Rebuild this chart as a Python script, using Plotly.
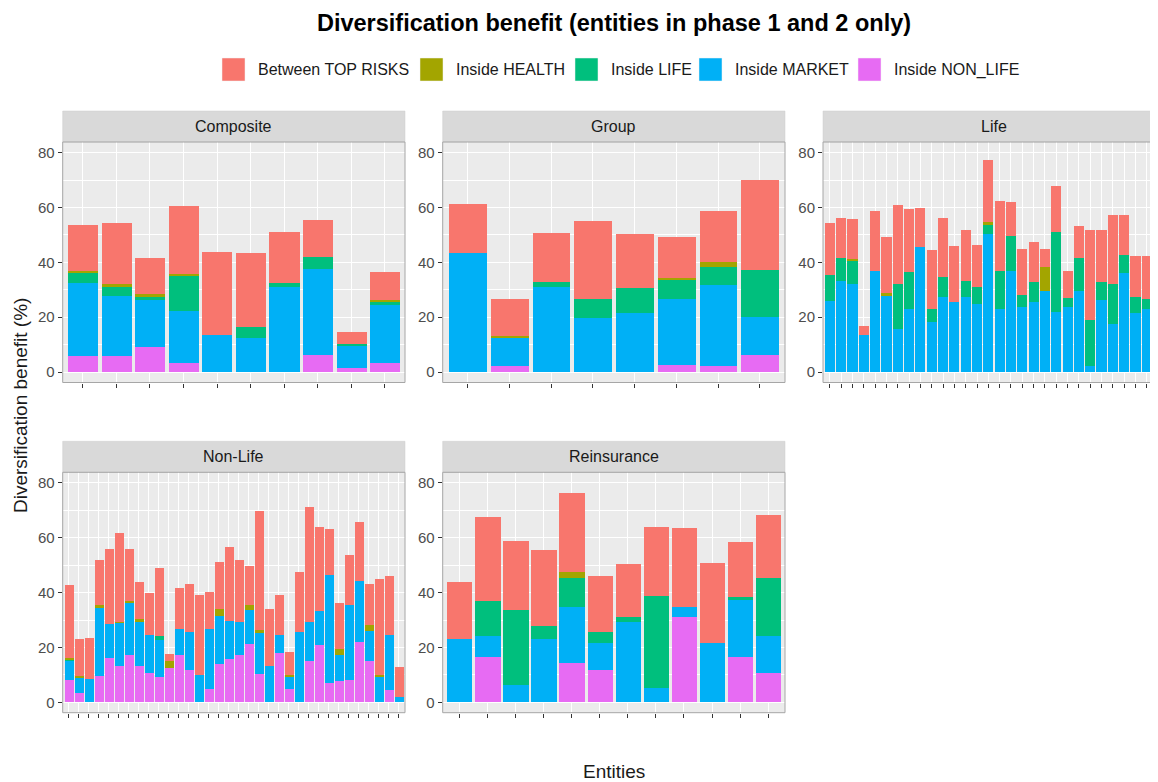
import plotly.graph_objects as go

# facets and stack components (bottom -> top of each bar)
facets = ["Composite", "Group", "Life", "Non-Life", "Reinsurance"]
components = ["Inside NON_LIFE", "Inside MARKET", "Inside LIFE", "Inside HEALTH", "Between TOP RISKS"]
colors = ["#E76BF3", "#00B0F6", "#00BF7D", "#A3A500", "#F8766D"]
legend_order = ["Between TOP RISKS", "Inside HEALTH", "Inside LIFE", "Inside MARKET", "Inside NON_LIFE"]

# --- Composite (10 entities)
composite_nonlife = [5.9, 5.7, 9.1, 3.2, 0, 0, 0, 6.2, 1.5, 3.4]
composite_market = [26.5, 21.9, 17.5, 18.9, 13.5, 12.5, 31.0, 31.3, 8.2, 21.1]
composite_life = [4.0, 3.6, 0.7, 13.1, 0, 3.8, 1.5, 4.3, 0.6, 1.4]
composite_health = [0.6, 1.0, 1.3, 0.4, 0, 0, 0, 0, 0, 0.4]
composite_top = [16.5, 22.1, 12.9, 24.9, 30.3, 27.2, 18.5, 13.7, 4.3, 10.2]

# --- Group (8 entities)
group_nonlife = [0, 2.4, 0, 0, 0, 2.7, 2.4, 6.3]
group_market = [43.3, 10.3, 31.1, 19.8, 21.4, 23.9, 29.3, 13.9]
group_life = [0, 0, 1.8, 6.9, 9.4, 7.1, 6.7, 17.1]
group_health = [0, 0.4, 0, 0, 0, 0.7, 1.7, 0]
group_top = [17.9, 13.4, 17.8, 28.5, 19.6, 15.0, 18.8, 32.9]

# --- Life (30 entities)
life_nonlife = [0] * 30
life_market = [26.0, 33.3, 32.2, 13.7, 36.9, 27.8, 15.7, 22.9, 45.5, 18.3,
               27.2, 25.5, 27.3, 24.9, 50.4, 23.1, 36.7, 23.8, 25.6, 29.6,
               22.0, 23.9, 29.4, 2.2, 26.3, 17.4, 36.2, 21.6, 23.1, 26.5]
life_life = [9.3, 8.2, 8.5, 0, 0, 0, 16.3, 13.5, 0, 4.8,
             7.5, 0, 6.0, 6.1, 3.4, 13.8, 13.1, 4.4, 7.3, 0,
             29.0, 3.2, 12.1, 16.9, 6.6, 14.8, 6.5, 5.7, 3.6, 3.8]
life_health = [0, 0, 0.5, 0, 0, 1.2, 0, 0, 0, 0,
               0, 0, 0, 0, 1.1, 0, 0, 0, 0, 8.8,
               0, 0, 0, 0, 0, 0, 0, 0, 0, 0]
life_top = [19.1, 14.6, 14.5, 3.2, 22.0, 20.2, 28.8, 23.2, 14.5, 21.3,
            21.4, 20.3, 18.5, 15.5, 22.6, 25.6, 12.3, 16.7, 14.4, 6.5,
            17.0, 9.7, 11.9, 32.6, 18.8, 25.0, 14.5, 15.1, 15.7, 13.2]

# --- Non-Life (34 entities)
nonlife_nonlife = [7.9, 3.4, 0, 9.3, 16.0, 13.0, 17.2, 13.3, 10.7, 9.0,
                   12.5, 17.3, 11.6, 0, 4.7, 13.9, 15.8, 17.3, 21.3, 10.1,
                   0, 17.7, 4.9, 0, 15.1, 20.9, 6.8, 7.7, 8.2, 21.8,
                   15.0, 0, 4.5, 0]
nonlife_market = [7.3, 5.4, 8.4, 25.0, 12.5, 16.0, 18.8, 15.8, 13.9, 13.5,
                  0, 9.4, 13.8, 9.9, 22.0, 17.6, 13.9, 11.8, 12.4, 15.0,
                  13.0, 6.8, 4.4, 25.4, 14.1, 12.2, 39.5, 9.5, 27.0, 22.4,
                  10.8, 9.3, 19.9, 1.8]
nonlife_life = [0.4, 0, 0, 0, 0, 0, 0, 0, 0, 1.7,
                0, 0, 0, 0, 0, 0, 0, 0, 0, 0,
                0, 0, 0, 0, 0, 0, 0, 0, 0, 0,
                0, 0, 0, 0]
nonlife_health = [0.4, 0.6, 0, 1.0, 0, 0.3, 0.9, 1.3, 0, 0,
                  2.5, 0, 0, 0, 0, 2.6, 0, 0, 1.6, 1.1,
                  0, 0, 0.6, 0, 0, 0, 0, 2.2, 0, 0,
                  2.3, 0.6, 0, 0]
nonlife_top = [26.7, 13.7, 15.0, 16.6, 27.4, 32.4, 19.0, 13.4, 15.0, 24.5,
               2.5, 14.8, 17.6, 29.1, 13.6, 16.8, 26.8, 22.7, 14.3, 43.5,
               21.0, 14.5, 8.2, 22.0, 41.9, 30.9, 16.7, 16.8, 18.6, 21.4,
               15.0, 34.9, 21.4, 10.9]

# --- Reinsurance (12 entities)
reins_nonlife = [0, 16.4, 0, 0, 14.2, 11.8, 0, 0, 31.1, 0, 16.4, 10.5]
reins_market = [23.0, 7.8, 6.2, 23.1, 20.4, 9.9, 29.1, 5.1, 3.4, 21.6, 20.7, 13.5]
reins_life = [0, 12.7, 27.5, 4.5, 10.5, 3.9, 1.8, 33.6, 0, 0, 1.3, 21.1]
reins_health = [0, 0, 0, 0, 2.5, 0, 0, 0, 0, 0, 0, 0]
reins_top = [20.8, 30.7, 25.0, 27.8, 28.5, 20.4, 19.3, 25.1, 28.8, 29.2, 19.8, 23.1]

facet_data = {
    "Composite": [composite_nonlife, composite_market, composite_life, composite_health, composite_top],
    "Group": [group_nonlife, group_market, group_life, group_health, group_top],
    "Life": [life_nonlife, life_market, life_life, life_health, life_top],
    "Non-Life": [nonlife_nonlife, nonlife_market, nonlife_life, nonlife_health, nonlife_top],
    "Reinsurance": [reins_nonlife, reins_market, reins_life, reins_health, reins_top],
}

W, H = 1158, 782   # page size
OFF = 8            # default body margin of the html page
FW, FH = W - OFF, H - OFF
FONT = "Liberation Sans, Arial, sans-serif"


# page pixels -> paper coordinates
def px_x(v):
    return (v - OFF) / FW


def px_y(v):
    return 1 - (v - OFF) / FH


# panel geometry in page pixels (ggplot facet_wrap, 3 columns)
col_px = [(62.7, 405.0), (442.7, 785.0), (823.0, 1165.0)]
row_px = [(142.0, 382.5), (472.3, 712.7)]
strip_h = 31
y_range = [-3.8, 83.9]

fig = go.Figure()
shapes = []
annotations = []
layout_axes = {}

for i, name in enumerate(facets):
    r, c = divmod(i, 3)
    x0, x1 = col_px[c]
    y0, y1 = row_px[r]
    sfx = "" if i == 0 else str(i + 1)
    values = facet_data[name]
    n = len(values[0])
    xs = list(range(1, n + 1))

    for k, comp in enumerate(components):
        fig.add_trace(go.Bar(
            x=xs, y=values[k], name=comp, marker_color=colors[k],
            marker_line_width=0, width=0.9, showlegend=False,
            xaxis="x" + sfx, yaxis="y" + sfx,
            hovertemplate=name + "<br>" + comp + ": %{y:.1f}%<extra></extra>",
        ))

    # the Life panel runs past the right edge of the page
    x_end = min(x1, W)
    xr_end = 0.4 + (n + 0.2) * (x_end - x0) / (x1 - x0)

    layout_axes["xaxis" + sfx] = dict(
        domain=[px_x(x0), min(px_x(x_end), 1.0)], anchor="y" + sfx,
        range=[0.4, xr_end], tickvals=xs, showticklabels=False,
        ticks="outside", ticklen=4, tickwidth=1, tickcolor="#333333",
        showgrid=True, gridcolor="white", gridwidth=1.1,
        zeroline=False, showline=False, fixedrange=True,
    )
    layout_axes["yaxis" + sfx] = dict(
        domain=[px_y(y1), px_y(y0)], anchor="x" + sfx,
        range=y_range, tickvals=[0, 20, 40, 60, 80],
        ticks="outside", ticklen=4, tickwidth=1, tickcolor="#333333",
        tickfont=dict(size=15, color="#4D4D4D", family=FONT),
        showgrid=True, gridcolor="white", gridwidth=1.1,
        minor=dict(dtick=10, tick0=0, showgrid=True, gridcolor="white", gridwidth=0.5),
        zeroline=False, showline=False, fixedrange=True,
    )

    # panel border
    shapes.append(dict(
        type="rect", xref="x" + sfx + " domain", yref="y" + sfx + " domain",
        x0=0, x1=1 if x1 <= W else 1.05, y0=0, y1=1,
        line=dict(color="#A6A6A6", width=1), fillcolor="rgba(0,0,0,0)", layer="above",
    ))
    # facet strip
    shapes.append(dict(
        type="rect", xref="paper", yref="paper",
        x0=px_x(x0), x1=px_x(x1), y0=px_y(y0), y1=px_y(y0 - strip_h),
        line=dict(color="#CFCFCF", width=0.5), fillcolor="#D9D9D9", layer="below",
    ))
    annotations.append(dict(
        text=name, xref="paper", yref="paper",
        x=px_x((x0 + x1) / 2), y=px_y(y0 - strip_h / 2),
        xanchor="center", yanchor="middle", showarrow=False,
        font=dict(size=16, color="#1A1A1A", family=FONT),
    ))

# legend drawn as ggplot-style keys above the panels
legend_left = [222, 420, 575, 699, 858]
key = 23
key_top = 58
for lbl, lx in zip(legend_order, legend_left):
    col = colors[components.index(lbl)]
    shapes.append(dict(
        type="rect", xref="paper", yref="paper",
        x0=px_x(lx), x1=px_x(lx + key), y0=px_y(key_top + key), y1=px_y(key_top),
        line=dict(color="#F2F2F2", width=0.5), fillcolor=col,
    ))
    annotations.append(dict(
        text=lbl, xref="paper", yref="paper",
        x=px_x(lx + key + 11), y=px_y(key_top + key / 2),
        xanchor="left", yanchor="middle", showarrow=False,
        font=dict(size=16, color="#1A1A1A", family=FONT),
    ))

# axis titles
annotations.append(dict(
    text="Entities", xref="paper", yref="paper",
    x=px_x(614), y=px_y(771), xanchor="center", yanchor="middle",
    showarrow=False, font=dict(size=19, color="#1A1A1A", family=FONT),
))
annotations.append(dict(
    text="Diversification benefit (%)", xref="paper", yref="paper",
    x=px_x(20), y=px_y(406), xanchor="center", yanchor="middle", textangle=-90,
    showarrow=False, font=dict(size=19, color="#1A1A1A", family=FONT),
))

fig.update_layout(
    width=FW, height=FH,
    margin=dict(l=0, r=0, t=0, b=0),
    paper_bgcolor="white", plot_bgcolor="#EBEBEB",
    barmode="stack", bargap=0,
    showlegend=False,
    title=dict(
        text="<b>Diversification benefit (entities in phase 1 and 2 only)</b>",
        x=px_x(614), y=px_y(23), xanchor="center", yanchor="middle",
        font=dict(size=23.5, color="black", family=FONT),
    ),
    font=dict(family=FONT),
    shapes=shapes, annotations=annotations,
    **layout_axes,
)

fig.write_html("out.html")
